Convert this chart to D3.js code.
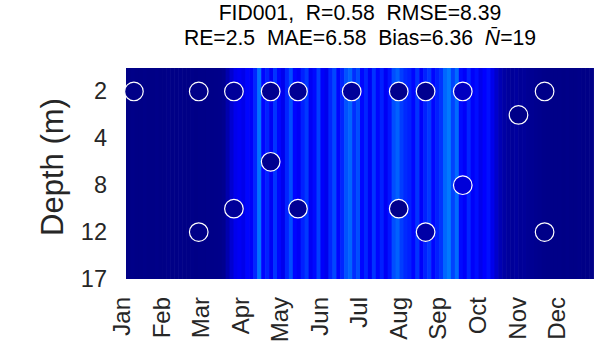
<!DOCTYPE html>
<html>
<head>
<meta charset="utf-8">
<script src="https://cdn.jsdelivr.net/npm/d3@7"></script>
<style>
  html, body { margin: 0; padding: 0; background: #fff; }
  svg { display: block; font-family: "Liberation Sans", Arial, sans-serif; }
  text { white-space: pre; }
</style>
</head>
<body>
<svg id="chart" width="594" height="355"></svg>
<script>
// ---------- data ----------
const titleLine1 = "FID001,  R=0.58  RMSE=8.39";
const titleLine2Parts = ["RE=2.5  MAE=6.58  Bias=6.36  ", "N\u0304", "=19"];
const yAxisLabel = "Depth (m)";

const monthLabels = ["Jan","Feb","Mar","Apr","May","Jun","Jul","Aug","Sep","Oct","Nov","Dec"];
const monthTicks = [1,2,3,4,5,6,7,8,9,10,11,12];      // month number (fractional-month axis)
const xLimits = [1.08, 12.92];

const depthLevels = [0, 2, 3, 4, 6, 8, 10, 12, 15, 17]; // model layers (m)
const depthTicks = [2, 4, 8, 12, 17];

// modelled values, one per 0.1-month step starting at month 1.0
const modelStart = 1.0;
const modelStep = 0.1;
const modelValues = [
  0.25,0.25,0.3,0.25,0.25,0.3,0.25,0.25,0.3,0.25,
  0.25,0.3,0.25,0.25,0.3,0.25,0.25,0.3,0.25,0.3,
  0.3,0.35,0.3,0.35,0.4,
  0.6,1.8,3.2,4.3,
  4.6,4.2,5.2,4.8,6.5,
  9.5,
  5.2,6.3,4.6,7.0,5.2,4.3,6.4,8.0,5.2,4.7,6.2,7.2,4.6,5.3,7.4,4.8,4.3,6.4,7.8,5.2,6.4,
  8.2,9.0,6.8,8.0,
  5.2,6.4,4.7,7.0,5.2,6.2,4.6,5.8,
  8.0,8.8,7.4,6.6,
  6.2,5.2,7.0,4.8,6.3,7.2,5.2,6.2,7.0,
  9.0,9.8,7.6,9.2,
  5.4,4.8,6.4,4.8,5.5,4.3,5.0,5.6,
  4.2,3.0,2.0,1.4,
  1.1,1.0,1.2,0.9,1.0,0.8,0.7,0.6,0.5,
  0.4,0.35,0.3,0.3,0.3,0.25,0.3,0.25,0.25,0.3,0.25,0.25,0.3,0.25
];

// observations (fractional month, depth in m, observed value)
const obsMonth = [1.28, 2.92, 2.92, 3.81, 3.81, 4.74, 4.74, 5.43, 5.43, 6.79,
                  7.98, 7.98, 8.66, 8.66, 9.60, 9.60, 11.01, 11.67, 11.67];
const obsDepth = [2, 2, 12, 2, 10, 2, 6, 2, 10, 2,
                  2, 10, 2, 12, 2, 8, 3, 2, 12];
const obsValue = [0.3, 0.3, 0.3, 1.0, 1.0, 0.6, 0.6, 0.8, 0.8, 1.0,
                  0.5, 0.5, 0.6, 1.5, 2.5, 3.5, 0.3, 0.3, 0.3];

// colour limits (jet colormap)
const colorDomain = [0, 5, 15, 25, 35, 40];
const colorRange = ["#000080", "#0000ff", "#00ffff", "#ffff00", "#ff0000", "#800000"];

// ---------- layout ----------
const plot = { left: 126, right: 594, top: 68, bottom: 279 };

const svg = d3.select("#chart");

const x = d3.scaleLinear().domain(xLimits).range([plot.left, plot.right]);
const y = d3.scalePoint().domain(depthLevels.map(String)).range([plot.top, plot.bottom]).padding(0);
const color = d3.scaleLinear().domain(colorDomain).range(colorRange).clamp(true);

svg.append("defs").append("clipPath").attr("id", "clip")
  .append("rect")
  .attr("x", plot.left).attr("y", plot.top)
  .attr("width", plot.right - plot.left).attr("height", plot.bottom - plot.top);

const g = svg.append("g").attr("clip-path", "url(#clip)");

// heatmap columns (value constant with depth)
g.selectAll("rect.cell")
  .data(modelValues)
  .join("rect")
  .attr("class", "cell")
  .attr("x", (d, i) => x(modelStart + i * modelStep))
  .attr("width", (d, i) => x(modelStart + (i + 1) * modelStep) - x(modelStart + i * modelStep) + 0.6)
  .attr("y", y(String(depthLevels[0])))
  .attr("height", y(String(depthLevels[depthLevels.length - 1])) - y(String(depthLevels[0])))
  .attr("fill", d => color(d));

// observations
const obs = obsMonth.map((m, i) => ({ m, depth: obsDepth[i], v: obsValue[i] }));
svg.append("g").selectAll("circle")
  .data(obs)
  .join("circle")
  .attr("cx", d => x(d.m))
  .attr("cy", d => y(String(d.depth)))
  .attr("r", 9.3)
  .attr("fill", d => color(d.v))
  .attr("stroke", "#ffffff")
  .attr("stroke-width", 1.2);

// y axis
const yAxis = svg.append("g")
  .attr("transform", `translate(${plot.left},0)`)
  .call(d3.axisLeft(y).tickValues(depthTicks.map(String)).tickSize(0).tickPadding(19));
yAxis.select(".domain").remove();
yAxis.selectAll("text")
  .attr("font-size", 23.5).attr("font-family", "Liberation Sans, Arial, sans-serif")
  .attr("fill", "#262626");

// x axis
const xAxis = svg.append("g")
  .attr("transform", `translate(0,${plot.bottom})`)
  .call(d3.axisBottom(x).tickValues(monthTicks).tickSize(0).tickFormat((d, i) => monthLabels[i]));
xAxis.select(".domain").remove();
xAxis.selectAll("text")
  .attr("font-size", 24).attr("font-family", "Liberation Sans, Arial, sans-serif")
  .attr("fill", "#262626")
  .attr("transform", "rotate(-90)")
  .attr("y", -1.5).attr("x", -18).attr("dy", "0.35em")
  .style("text-anchor", "end");

// y label
svg.append("text")
  .attr("transform", "translate(52,167) rotate(-90)")
  .attr("text-anchor", "middle")
  .attr("dy", "0.35em")
  .attr("font-size", 31)
  .attr("fill", "#262626")
  .text(yAxisLabel);

// title
const cx = (plot.left + plot.right) / 2;
svg.append("text")
  .attr("x", cx).attr("y", 20)
  .attr("text-anchor", "middle")
  .attr("font-size", 21.2)
  .attr("fill", "#000")
  .text(titleLine1);
const t2 = svg.append("text")
  .attr("x", cx).attr("y", 45)
  .attr("text-anchor", "middle")
  .attr("font-size", 21.2)
  .attr("fill", "#000");
t2.append("tspan").text(titleLine2Parts[0]);
t2.append("tspan").attr("font-style", "italic").text(titleLine2Parts[1]);
t2.append("tspan").text(titleLine2Parts[2]);
</script>
</body>
</html>
